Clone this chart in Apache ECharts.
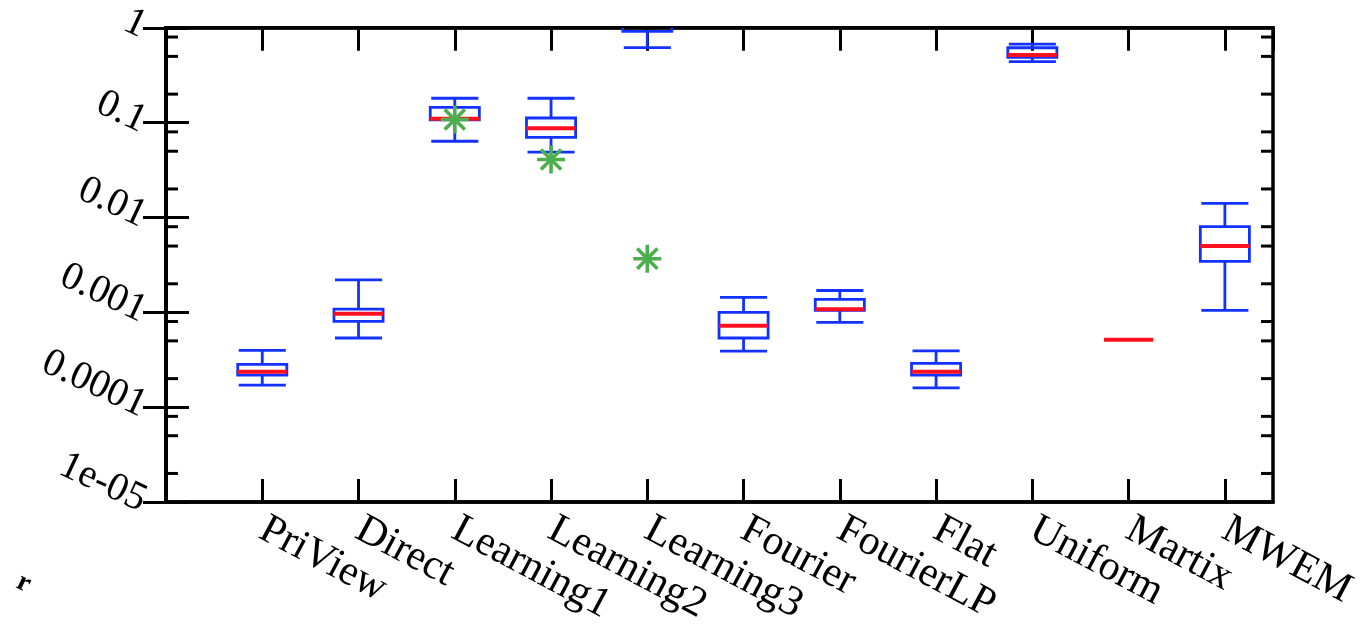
<!DOCTYPE html>
<html><head><meta charset="utf-8">
<script src="https://cdn.jsdelivr.net/npm/echarts@6/dist/echarts.min.js"></script>
<style>html,body{margin:0;padding:0;background:#fff}#c{width:1363px;height:629px}</style>
</head><body><div id="c"></div>
<script>
// ---- data ----
const categories = ['PriView','Direct','Learning1','Learning2','Learning3','Fourier','FourierLP','Flat','Uniform','Martix','MWEM'];
const whiskerLow  = [1.71e-4, 5.36e-4, 0.0637, 0.0488, 0.62, 3.89e-4, 7.83e-4, 1.60e-4, 0.440, 5.15e-4, 1.05e-3];
const q1          = [2.18e-4, 8.03e-4, 0.107,  0.0701, 0.92, 5.36e-4, 1.05e-3, 2.18e-4, 0.488, 5.15e-4, 3.44e-3];
const median      = [2.36e-4, 9.66e-4, 0.110,  0.0871, 1.10, 7.23e-4, 1.08e-3, 2.36e-4, 0.517, 5.15e-4, 5.00e-3];
const q3          = [2.82e-4, 1.08e-3, 0.145,  0.112,  1.30, 1.00e-3, 1.37e-3, 2.89e-4, 0.617, 5.15e-4, 8.02e-3];
const whiskerHigh = [3.98e-4, 2.20e-3, 0.181,  0.181,  1.60, 1.44e-3, 1.70e-3, 3.92e-4, 0.675, 5.15e-4, 0.0141];
const starCategories = ['Learning1','Learning2','Learning3'];
const starValues = [0.108, 0.0409, 0.00368];
const yTickLabels = ['1e-05','0.0001','0.001','0.01','0.1','1'];
const yMinorTicks = [2e-5,5e-5,8e-5, 2e-4,5e-4,8e-4, 2e-3,5e-3,8e-3, 2e-2,5e-2,8e-2, 0.2,0.5,0.8];

const BLUE = '#1432ff', RED = '#ff1020', GREEN = '#4cae4c';
const FONT = 'Liberation Serif';

const boxData = categories.map((c, i) => [i + 1, whiskerLow[i], q1[i], median[i], q3[i], whiskerHigh[i]]);
const starData = starCategories.map((c, i) => [categories.indexOf(c) + 1, starValues[i]]);
const minorData = yMinorTicks.map(v => [0, v]);

const chart = echarts.init(document.getElementById('c'), null, {renderer: 'canvas'});

const axisLineStyle = {show: true, lineStyle: {color: '#000', width: 3.5}};
const majorTick = {show: true, inside: true, length: 23, lineStyle: {color: '#000', width: 3}};

function xLabel(v) {
  if (Math.abs(v - Math.round(v)) > 1e-6) return '';
  const i = Math.round(v) - 1;
  return categories[i] || '';
}
function yLabel(v) {
  const i = Math.round(Math.log10(v)) + 5;
  return yTickLabels[i] || '';
}

chart.setOption({
  animation: false,
  backgroundColor: '#fff',
  grid: {left: 166, right: 90, top: 26, bottom: 127, show: true, borderColor: '#000', borderWidth: 3.5, backgroundColor: 'transparent'},
  xAxis: [
    {type: 'value', min: 0, max: 11.5, interval: 1, position: 'bottom',
     axisLine: axisLineStyle, axisTick: majorTick, splitLine: {show: false},
     axisLabel: {formatter: xLabel, rotate: -28, fontFamily: FONT, fontSize: 42, color: '#000', margin: 25, showMinLabel: false, showMaxLabel: false}},
    {type: 'value', min: 0, max: 11.5, interval: 1, position: 'top',
     axisLine: axisLineStyle, axisTick: majorTick, splitLine: {show: false}, axisLabel: {show: false}}
  ],
  yAxis: [
    {type: 'log', logBase: 10, min: 1e-5, max: 1, interval: 1, position: 'left',
     axisLine: axisLineStyle, axisTick: majorTick, splitLine: {show: false},
     axisLabel: {formatter: yLabel, rotate: -25, fontFamily: FONT, fontSize: 40, color: '#000', margin: 22}},
    {type: 'log', logBase: 10, min: 1e-5, max: 1, interval: 1, position: 'right',
     axisLine: axisLineStyle, axisTick: majorTick, splitLine: {show: false}, axisLabel: {show: false}}
  ],
  series: [
    {
      type: 'custom', name: 'minor', xAxisIndex: 0, yAxisIndex: 0, data: minorData,
      encode: {x: 0, y: 1}, silent: true,
      renderItem: function (params, api) {
        const cs = params.coordSys;
        const y = api.coord([0, api.value(1)])[1];
        const st = {stroke: '#000', lineWidth: 3};
        return {type: 'group', children: [
          {type: 'line', shape: {x1: cs.x, y1: y, x2: cs.x + 12, y2: y}, style: st},
          {type: 'line', shape: {x1: cs.x + cs.width - 12, y1: y, x2: cs.x + cs.width, y2: y}, style: st}
        ]};
      }
    },
    {
      type: 'custom', name: 'box', xAxisIndex: 0, yAxisIndex: 0, data: boxData, clip: true,
      encode: {x: 0, y: [1, 2, 3, 4, 5]},
      renderItem: function (params, api) {
        const x = api.value(0);
        const half = 0.255;
        const lo = api.coord([x, api.value(1)]);
        const a = api.coord([x, api.value(2)]);
        const m = api.coord([x, api.value(3)]);
        const b = api.coord([x, api.value(4)]);
        const hi = api.coord([x, api.value(5)]);
        const xl = api.coord([x - half, api.value(3)])[0];
        const xr = api.coord([x + half, api.value(3)])[0];
        const cx = lo[0];
        const bs = {stroke: BLUE, lineWidth: 2.8, fill: null};
        return {type: 'group', children: [
          {type: 'line', shape: {x1: cx, y1: b[1], x2: cx, y2: hi[1]}, style: bs},
          {type: 'line', shape: {x1: cx, y1: lo[1], x2: cx, y2: a[1]}, style: bs},
          {type: 'line', shape: {x1: xl + 1, y1: hi[1], x2: xr - 1, y2: hi[1]}, style: bs},
          {type: 'line', shape: {x1: xl + 1, y1: lo[1], x2: xr - 1, y2: lo[1]}, style: bs},
          {type: 'rect', shape: {x: xl, y: b[1], width: xr - xl, height: a[1] - b[1]}, style: {stroke: BLUE, lineWidth: 2.8, fill: 'none'}},
          {type: 'line', shape: {x1: xl, y1: m[1], x2: xr, y2: m[1]}, style: {stroke: RED, lineWidth: 4}}
        ]};
      }
    },
    {
      type: 'custom', name: 'star', xAxisIndex: 0, yAxisIndex: 0, data: starData, clip: true,
      encode: {x: 0, y: 1},
      renderItem: function (params, api) {
        const p = api.coord([api.value(0), api.value(1)]);
        const r = 14, d = r * 0.72;
        const st = {stroke: GREEN, lineWidth: 3.6};
        return {type: 'group', children: [
          {type: 'line', shape: {x1: p[0] - r, y1: p[1], x2: p[0] + r, y2: p[1]}, style: st},
          {type: 'line', shape: {x1: p[0], y1: p[1] - r, x2: p[0], y2: p[1] + r}, style: st},
          {type: 'line', shape: {x1: p[0] - d, y1: p[1] - d, x2: p[0] + d, y2: p[1] + d}, style: st},
          {type: 'line', shape: {x1: p[0] - d, y1: p[1] + d, x2: p[0] + d, y2: p[1] - d}, style: st}
        ]};
      }
    }
  ],
  graphic: [
    {type: 'text', left: 12, top: 568, rotation: -0.45,
     style: {text: 'r', font: 'bold 28px "Liberation Serif"', fill: '#000'}}
  ]
});
</script>
</body></html>
